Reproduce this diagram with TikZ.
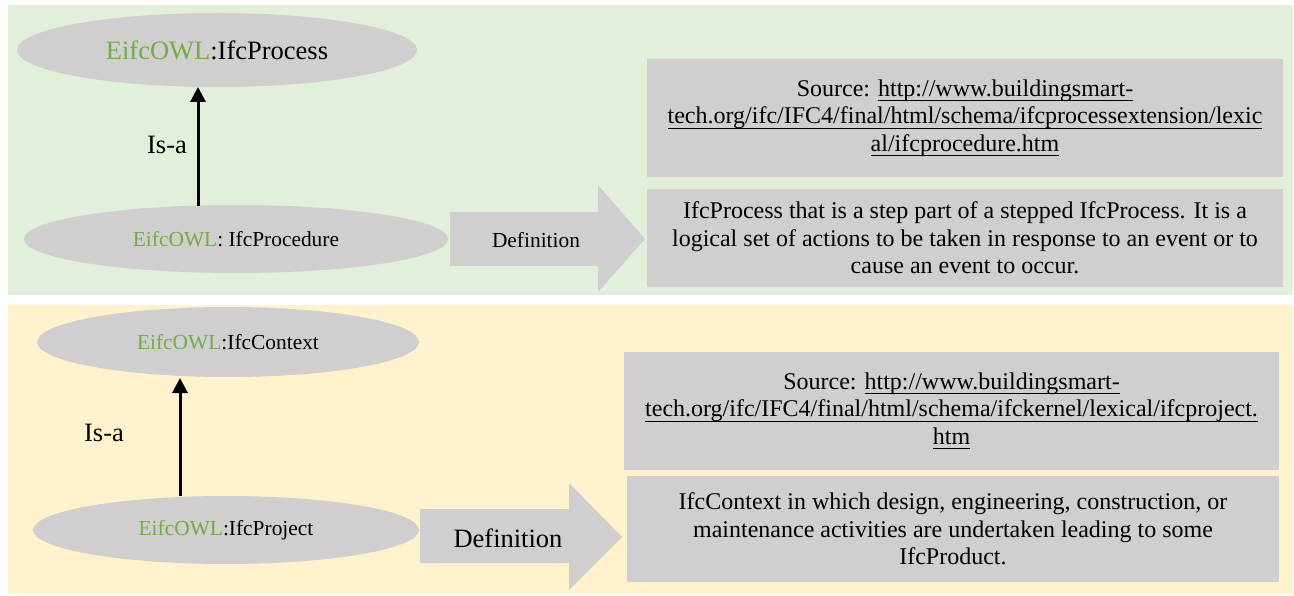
\documentclass[tikz,border=0pt]{standalone}
\usepackage{fontspec}
\setmainfont{Liberation Serif}
\usetikzlibrary{arrows.meta,shapes.geometric}
\definecolor{panelgreen}{HTML}{E2EFDA}
\definecolor{panelyellow}{HTML}{FFF2CC}
\definecolor{boxgray}{HTML}{D0CECE}
\definecolor{owlgreen}{HTML}{70AD47}
\newcommand{\owl}{\textcolor{owlgreen}{EifcOWL}}
\newcommand{\myul}[1]{\setbox0\hbox{#1}\rlap{\rule[-5pt]{\wd0}{1.2pt}}\box0}
\tikzset{
  concept/.style={ellipse, fill=boxgray, inner sep=0pt},
  infobox/.style={rectangle, fill=boxgray, inner sep=0pt, align=center,
    font=\fontsize{24}{27.6}\selectfont},
  isa/.style={line width=3pt, -{Triangle[length=15pt,width=15pt]}},
  blockarrow/.style={fill=boxgray},
}
\begin{document}
\begin{tikzpicture}[x=1pt,y=-1pt]
\useasboundingbox (0,0) rectangle (1294,596);
% panels
\fill[panelgreen] (8,5) rectangle (1293,295);
\fill[panelyellow] (8,305) rectangle (1293,594);

% ---- top panel ----
\node[concept, minimum width=400pt, minimum height=74pt, font=\fontsize{26.5}{30}\selectfont] (proc) at (217,50) {\owl:IfcProcess};
\node[concept, minimum width=424pt, minimum height=68pt, font=\fontsize{21.4}{25}\selectfont] (procd) at (236,239) {\owl: IfcProcedure};
\coordinate (a1s) at (198,206);
\coordinate (a1e) at (198,87);
\draw[isa] (a1s) -- (a1e);
\node[font=\fontsize{26.5}{30}\selectfont] (isa1) at (167,145) {Is-a};

\fill[blockarrow] (450,212) -- (598,212) -- (598,185) -- (645,239) -- (598,292) -- (598,266) -- (450,266) -- cycle;
\node[font=\fontsize{21.4}{25}\selectfont] (def1) at (536,240) {Definition};

\node[infobox, minimum width=636pt, minimum height=118pt] (src1) at (965,118)
  {Source: \myul{http://www.buildingsmart-}\\
   \myul{tech.org/ifc/IFC4/final/html/schema/ifcprocessextension/lexic}\\
   \myul{al/ifcprocedure.htm}};
\node[infobox, minimum width=636pt, minimum height=98pt] (defn1) at (965,238)
  {IfcProcess that is a step part of a stepped IfcProcess. It is a\\
   logical set of actions to be taken in response to an event or to\\
   cause an event to occur.};

% ---- bottom panel ----
\node[concept, minimum width=382pt, minimum height=70pt, font=\fontsize{21.4}{25}\selectfont] (ctx) at (228,342) {\owl:IfcContext};
\node[concept, minimum width=386pt, minimum height=68pt, font=\fontsize{21.4}{25}\selectfont] (proj) at (226,530) {\owl:IfcProject};
\coordinate (a2s) at (180,496);
\coordinate (a2e) at (180,378);
\draw[isa] (a2s) -- (a2e);
\node[font=\fontsize{26.5}{30}\selectfont] (isa2) at (104,433) {Is-a};

\fill[blockarrow] (420,509) -- (569,509) -- (569,483) -- (622,537) -- (569,590) -- (569,563) -- (420,563) -- cycle;
\node[font=\fontsize{26.5}{30}\selectfont] (def2) at (508,538) {Definition};

\node[infobox, minimum width=655pt, minimum height=118pt] (src2) at (951.5,411)
  {Source: \myul{http://www.buildingsmart-}\\
   \myul{tech.org/ifc/IFC4/final/html/schema/ifckernel/lexical/ifcproject.}\\
   \myul{htm}};
\node[infobox, minimum width=652pt, minimum height=106pt] (defn2) at (953,529)
  {IfcContext in which design, engineering, construction, or\\
   maintenance activities are undertaken leading to some\\
   IfcProduct.};
\end{tikzpicture}
\end{document}
